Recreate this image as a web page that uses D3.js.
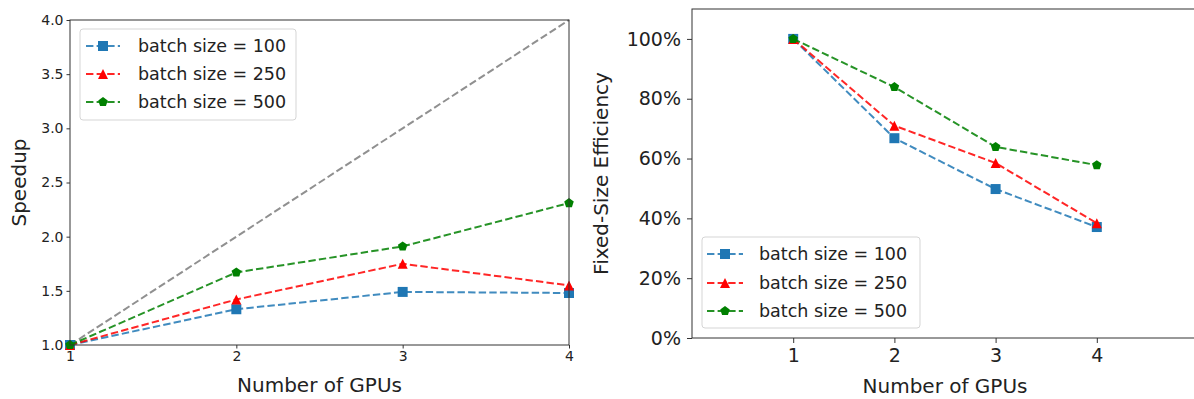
<!DOCTYPE html>
<html>
<head>
<meta charset="utf-8">
<script src="https://cdn.jsdelivr.net/npm/d3@7"></script>
<style>
  body { margin: 0; background: #fff; }
  svg { display: block; font-family: "DejaVu Sans", sans-serif; }
</style>
</head>
<body>
<svg id="chart" width="1194" height="399"></svg>
<script>
// data
const gpus = [1, 2, 3, 4];
const batchLabels = ['batch size = 100', 'batch size = 250', 'batch size = 500'];
const speedup100 = [1.00, 1.33, 1.49, 1.48];
const speedup250 = [1.00, 1.42, 1.75, 1.55];
const speedup500 = [1.00, 1.67, 1.91, 2.31];
const idealSpeedup = [1, 2, 3, 4];
const eff100 = [100, 66.8, 49.8, 37.1];
const eff250 = [100, 71.0, 58.5, 38.4];
const eff500 = [100, 83.9, 63.9, 57.8];
const speedupTicks = [1.0, 1.5, 2.0, 2.5, 3.0, 3.5, 4.0];
const effTicks = [0, 20, 40, 60, 80, 100];

const colors = ['#1f77b4', '#ff0000', '#008000'];
const markers = ['square', 'triangle', 'pentagon'];
const dash = '7.4,3.2';

const svg = d3.select('#chart');

function markerPath(type, r) {
  if (type === 'square') return `M${-r},${-r}H${r}V${r}H${-r}Z`;
  if (type === 'triangle') return `M0,${-r}L${r},${r}L${-r},${r}Z`;
  // pentagon
  const pts = d3.range(5).map(i => {
    const a = -Math.PI / 2 + i * 2 * Math.PI / 5;
    return [r * Math.cos(a), r * Math.sin(a)];
  });
  return 'M' + pts.map(p => p.join(',')).join('L') + 'Z';
}

function drawSeries(g, x, y, values, i) {
  const line = d3.line().x((d, j) => x(gpus[j])).y(d => y(d));
  g.append('path')
    .attr('d', line(values))
    .attr('fill', 'none')
    .attr('stroke', colors[i])
    .attr('stroke-width', 2)
    .attr('stroke-dasharray', dash)
    .attr('opacity', 0.85);
  g.selectAll(null)
    .data(values)
    .join('path')
    .attr('transform', (d, j) => `translate(${x(gpus[j])},${y(d)})`)
    .attr('d', markerPath(markers[i], 5))
    .attr('fill', colors[i]);
}

function drawLegend(g, x0, y0, w, h, rowY, handleX, textX, fontSize) {
  const lg = g.append('g');
  lg.append('rect')
    .attr('x', x0).attr('y', y0).attr('width', w).attr('height', h)
    .attr('rx', 3)
    .attr('fill', 'rgba(255,255,255,0.8)')
    .attr('stroke', '#d5d5d5');
  batchLabels.forEach((label, i) => {
    const cy = rowY[i];
    lg.append('line')
      .attr('x1', handleX[0]).attr('x2', handleX[1])
      .attr('y1', cy).attr('y2', cy)
      .attr('stroke', colors[i]).attr('stroke-width', 2)
      .attr('stroke-dasharray', dash).attr('opacity', 0.85);
    lg.append('path')
      .attr('transform', `translate(${(handleX[0] + handleX[1]) / 2},${cy})`)
      .attr('d', markerPath(markers[i], 5))
      .attr('fill', colors[i]);
    lg.append('text')
      .attr('x', textX).attr('y', cy)
      .attr('dy', '0.36em')
      .attr('font-size', fontSize)
      .attr('fill', '#222')
      .text(label);
  });
}

function styleAxis(ax, fontSize) {
  ax.select('.domain').remove();
  ax.selectAll('line').attr('stroke', '#333');
  ax.selectAll('text').attr('font-size', fontSize).attr('fill', '#222')
    .attr('font-family', '"DejaVu Sans", sans-serif');
}

function frame(g, x0, x1, y0, y1) {
  g.append('rect')
    .attr('x', x0).attr('y', y0).attr('width', x1 - x0).attr('height', y1 - y0)
    .attr('fill', 'none').attr('stroke', '#333').attr('stroke-width', 1);
}

// ---- left panel: speedup ----
{
  const L = 70, R = 569, T = 20, B = 345;
  const x = d3.scaleLinear().domain([1, 4]).range([L, R]);
  const y = d3.scaleLinear().domain([1, 4]).range([B, T]);
  const g = svg.append('g');

  const xa = g.append('g').attr('transform', `translate(0,${B})`)
    .call(d3.axisBottom(x).tickValues(gpus).tickFormat(d3.format('d')).tickSizeOuter(0).tickSize(3.5).tickPadding(3));
  styleAxis(xa, 14);
  const ya = g.append('g').attr('transform', `translate(${L},0)`)
    .call(d3.axisLeft(y).tickValues(speedupTicks).tickFormat(d3.format('.1f')).tickSizeOuter(0).tickSize(3.5).tickPadding(3));
  styleAxis(ya, 14);

  g.append('path')
    .attr('d', d3.line().x((d, j) => x(gpus[j])).y(d => y(d))(idealSpeedup))
    .attr('fill', 'none').attr('stroke', '#909090').attr('stroke-width', 2)
    .attr('stroke-dasharray', dash);

  [speedup100, speedup250, speedup500].forEach((v, i) => drawSeries(g, x, y, v, i));
  frame(g, L, R, T, B);

  g.append('text').attr('x', (L + R) / 2).attr('y', 392)
    .attr('text-anchor', 'middle').attr('font-size', 20).attr('fill', '#222')
    .text('Number of GPUs');
  g.append('text').attr('transform', `translate(26,${(T + B) / 2}) rotate(-90)`)
    .attr('text-anchor', 'middle').attr('font-size', 20).attr('fill', '#222')
    .text('Speedup');

  drawLegend(g, 80, 29, 216, 91, [46, 74, 102], [86, 120], 138, 17.5);
}

// ---- right panel: fixed-size efficiency ----
{
  const L = 692, R = 1198, T = 9, B = 338;
  const x = d3.scaleLinear().domain([0, 5]).range([L, R]);
  const y = d3.scaleLinear().domain([0, 110]).range([B, T]);
  const g = svg.append('g');

  const xa = g.append('g').attr('transform', `translate(0,${B})`)
    .call(d3.axisBottom(x).tickValues(gpus).tickFormat(d3.format('d')).tickSizeOuter(0).tickSize(5).tickPadding(6));
  styleAxis(xa, 19);
  const ya = g.append('g').attr('transform', `translate(${L},0)`)
    .call(d3.axisLeft(y).tickValues(effTicks).tickFormat(d => d + '%').tickSizeOuter(0).tickSize(5).tickPadding(6));
  styleAxis(ya, 19);

  [eff100, eff250, eff500].forEach((v, i) => drawSeries(g, x, y, v, i));
  frame(g, L, R, T, B);

  g.append('text').attr('x', 945).attr('y', 393)
    .attr('text-anchor', 'middle').attr('font-size', 20).attr('fill', '#222')
    .text('Number of GPUs');
  g.append('text').attr('transform', `translate(608,${(T + B) / 2}) rotate(-90)`)
    .attr('text-anchor', 'middle').attr('font-size', 20).attr('fill', '#222')
    .text('Fixed-Size Efficiency');

  drawLegend(g, 702, 237, 218, 91, [254, 283, 311], [707, 743], 759, 17.5);
}
</script>
</body>
</html>
